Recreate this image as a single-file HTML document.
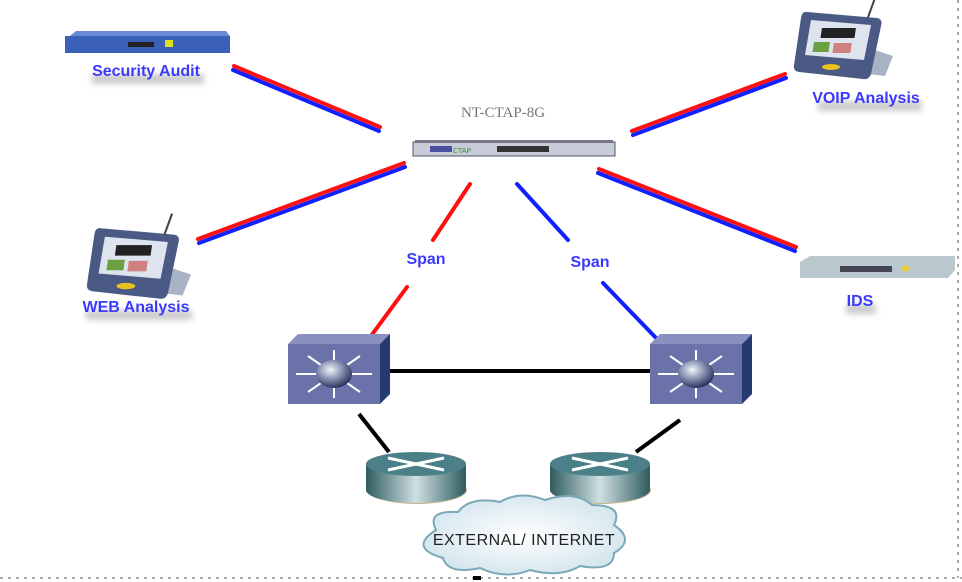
<!DOCTYPE html>
<html><head><meta charset="utf-8"><style>
html,body{margin:0;padding:0;background:#fff;}
svg{display:block;}
.lbl{font-family:"Liberation Sans",sans-serif;font-weight:bold;font-size:16px;fill:#3a3aff;}
</style></head><body>
<svg width="962" height="582" viewBox="0 0 962 582" xmlns="http://www.w3.org/2000/svg">
<defs>
<filter id="bl" x="-20%" y="-50%" width="140%" height="200%"><feGaussianBlur stdDeviation="3"/></filter>
<radialGradient id="ball" cx="40%" cy="35%" r="65%"><stop offset="0" stop-color="#f4f6fb"/><stop offset="0.5" stop-color="#8a94b4"/><stop offset="1" stop-color="#2b3560"/></radialGradient>
<linearGradient id="rt" x1="0" x2="1"><stop offset="0" stop-color="#2e5c60"/><stop offset="0.5" stop-color="#cfe0e2"/><stop offset="1" stop-color="#2e5c60"/></linearGradient>
<radialGradient id="cl" cx="50%" cy="50%" r="60%"><stop offset="0" stop-color="#ffffff"/><stop offset="1" stop-color="#cfe3ec"/></radialGradient>
<g id="tab">
 <line x1="82" y1="-8" x2="74" y2="14" stroke="#444" stroke-width="2"/>
 <path d="M8 60 L92 70 L100 50 L70 40 Z" fill="#7080a0" opacity="0.6"/>
 <path d="M14 6 L84 12 Q90 13 88 20 L78 68 Q76 74 70 73 L6 66 Q0 65 1 59 L8 12 Q9 5 14 6Z" fill="#4a5a85"/>
 <path d="M18 14 L78 19 L71 54 L12 49 Z" fill="#dde4ee"/>
 <rect x="32" y="22" width="34" height="10" fill="#222" transform="skewX(-8)"/>
 <rect x="26" y="36" width="16" height="10" fill="#6aa040" transform="skewX(-8)"/>
 <rect x="46" y="37" width="18" height="10" fill="#d08080" transform="skewX(-8)"/>
 <ellipse cx="38" cy="61" rx="9" ry="3" fill="#e8c020"/>
</g>
<g id="sw">
 <path d="M0 10 L10 0 L102 0 L92 10 Z" fill="#8a90c0"/>
 <path d="M92 10 L102 0 L102 60 L92 70 Z" fill="#243a70"/>
 <rect x="0" y="10" width="92" height="60" fill="#6b72aa"/>
 <g stroke="#fff" stroke-width="2">
  <line x1="46" y1="40" x2="46" y2="16"/><line x1="46" y1="40" x2="46" y2="64"/>
  <line x1="46" y1="40" x2="8" y2="40"/><line x1="46" y1="40" x2="84" y2="40"/>
  <line x1="46" y1="40" x2="20" y2="22"/><line x1="46" y1="40" x2="72" y2="22"/>
  <line x1="46" y1="40" x2="20" y2="58"/><line x1="46" y1="40" x2="72" y2="58"/>
 </g>
 <ellipse cx="46" cy="40" rx="18" ry="14" fill="url(#ball)"/>
</g>
<g id="rtr">
 <ellipse cx="51" cy="38" rx="50" ry="14" fill="#c8b890"/>
 <rect x="0" y="12" width="100" height="26" fill="url(#rt)"/>
 <ellipse cx="50" cy="38" rx="50" ry="13" fill="url(#rt)"/>
 <ellipse cx="50" cy="12" rx="50" ry="12" fill="#4c8088"/>
 <g stroke="#fff" stroke-width="3"><line x1="22" y1="6" x2="78" y2="18"/><line x1="22" y1="18" x2="78" y2="6"/></g>
</g>
</defs>

<line x1="0" y1="578" x2="962" y2="578" stroke="#aaa" stroke-width="2" stroke-dasharray="3,5"/>
<line x1="958" y1="0" x2="958" y2="578" stroke="#aaa" stroke-width="2" stroke-dasharray="3,5"/>
<rect x="473" y="576" width="8" height="4" fill="#000"/>

<!-- label shadows -->
<g fill="#ccc" filter="url(#bl)">
 <rect x="92" y="74" width="112" height="10"/>
 <rect x="818" y="101" width="104" height="10"/>
 <rect x="86" y="310" width="106" height="10"/>
 <rect x="846" y="304" width="30" height="10"/>
</g>

<g stroke-width="4" stroke-linecap="round">
 <line x1="234" y1="66" x2="380" y2="127" stroke="#ff1010"/><line x1="233" y1="70" x2="379" y2="131" stroke="#1020ff"/>
 <line x1="632" y1="131" x2="785" y2="74" stroke="#ff1010"/><line x1="633" y1="135" x2="786" y2="78" stroke="#1020ff"/>
 <line x1="198" y1="239" x2="404" y2="163" stroke="#ff1010"/><line x1="199" y1="243" x2="405" y2="167" stroke="#1020ff"/>
 <line x1="599" y1="169" x2="796" y2="247" stroke="#ff1010"/><line x1="598" y1="173" x2="795" y2="251" stroke="#1020ff"/>
 <line x1="470" y1="184" x2="433" y2="240" stroke="#ff1010"/>
 <line x1="407" y1="287" x2="368" y2="340" stroke="#ff1010"/>
 <line x1="517" y1="184" x2="568" y2="240" stroke="#1020ff"/>
 <line x1="603" y1="283" x2="658" y2="340" stroke="#1020ff"/>
</g>
<g stroke="#000" stroke-width="4">
 <line x1="388" y1="371" x2="652" y2="371"/>
 <line x1="359" y1="414" x2="389" y2="452"/>
 <line x1="680" y1="420" x2="636" y2="452"/>
</g>

<text x="503" y="117" text-anchor="middle" font-family="Liberation Serif,serif" font-size="15" fill="#777">NT-CTAP-8G</text>
<rect x="413" y="142" width="202" height="14" fill="#c8ccd8" stroke="#556" stroke-width="1"/>
<rect x="415" y="140" width="198" height="3" fill="#778"/>
<rect x="430" y="146" width="22" height="6" fill="#4a50a0"/>
<text x="453" y="153" font-family="Liberation Sans,sans-serif" font-size="7" fill="#3a8a30">CTAP</text>
<rect x="497" y="146" width="52" height="6" fill="#333"/>

<path d="M70 36 L76 31 L226 31 L230 36 Z" fill="#6a8ad8"/>
<rect x="65" y="36" width="165" height="17" fill="#3a60b8"/>
<rect x="128" y="42" width="26" height="5" fill="#222"/><rect x="165" y="40" width="8" height="7" fill="#e0e020"/>
<text class="lbl" x="146" y="76" text-anchor="middle">Security Audit</text>

<use href="#tab" transform="translate(793,6)"/>
<text class="lbl" x="866" y="103" text-anchor="middle">VOIP Analysis</text>
<use href="#tab" transform="translate(86,222) scale(1.05)"/>
<text class="lbl" x="136" y="312" text-anchor="middle">WEB Analysis</text>

<path d="M800 262 L810 256 L955 256 L955 270 L948 278 L800 278 Z" fill="#b8c8cc"/>
<rect x="840" y="266" width="52" height="6" fill="#445"/>
<rect x="902" y="266" width="8" height="5" fill="#e8d040"/>
<text class="lbl" x="860" y="306" text-anchor="middle">IDS</text>

<text class="lbl" x="426" y="264" text-anchor="middle">Span</text>
<text class="lbl" x="590" y="267" text-anchor="middle">Span</text>

<use href="#sw" x="288" y="334"/>
<use href="#sw" x="650" y="334"/>

<use href="#rtr" x="366" y="452"/>
<use href="#rtr" x="550" y="452"/>

<path d="M436 530 Q426 510 458 512 Q470 496 500 502 Q520 490 545 500 Q575 490 592 505 Q624 505 614 525 Q636 540 614 553 Q614 572 580 566 Q560 578 530 570 Q505 580 480 568 Q448 575 443 558 Q408 548 436 530Z" fill="url(#cl)" stroke="#7aa8b8" stroke-width="2"/>
<text x="524" y="545" text-anchor="middle" font-family="Liberation Sans,sans-serif" font-size="16" letter-spacing="0.5" fill="#222">EXTERNAL/ INTERNET</text>
</svg>
</body></html>
